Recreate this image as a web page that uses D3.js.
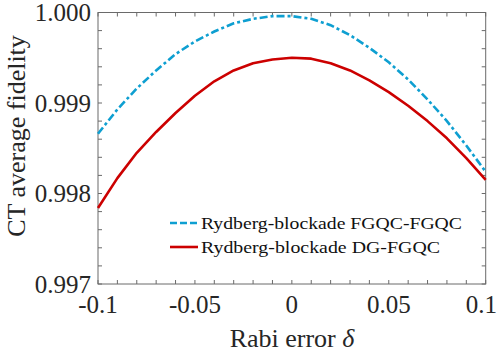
<!DOCTYPE html>
<html><head><meta charset="utf-8">
<script src="https://cdn.jsdelivr.net/npm/d3@7"></script>
<style>body{margin:0;background:#fff}svg{display:block}</style>
</head><body>
<svg id="c" width="498" height="355"></svg>
<script>
const delta = [-0.10,-0.09,-0.08,-0.07,-0.06,-0.05,-0.04,-0.03,-0.02,-0.01,0.00,0.01,0.02,0.03,0.04,0.05,0.06,0.07,0.08,0.09,0.10];
const fgqcFgqc = [0.99866,0.99893,0.99916,0.99936,0.99954,0.99968,0.99979,0.99988,0.99993,0.99996,0.99996,0.99993,0.99986,0.99975,0.99961,0.99945,0.99926,0.99904,0.99880,0.99853,0.99824];
const dgFgqc = [0.99784,0.99817,0.99845,0.99868,0.99889,0.99908,0.99924,0.99936,0.99944,0.99948,0.99950,0.99949,0.99944,0.99936,0.99925,0.99912,0.99897,0.99880,0.99861,0.99839,0.99815];
const xTicks = [-0.1,-0.05,0,0.05,0.1];
const xTickLabels = ["-0.1","-0.05","0","0.05","0.1"];
const yTicks = [0.997,0.998,0.999,1.000];
const yTickLabels = ["0.997","0.998","0.999","1.000"];
const seriesNames = ["Rydberg-blockade FGQC-FGQC","Rydberg-blockade DG-FGQC"];

const svg = d3.select("#c");
const L=98, R=485.7, T=12.5, B=284;
const x = d3.scaleLinear().domain([-0.1,0.1]).range([L,R]);
const y = d3.scaleLinear().domain([0.997,1.0]).range([B,T]);
const axisCol = "#6a6a6a";
const font = "'Liberation Serif', 'Times New Roman', Times, serif";

const xMinor = d3.range(-10,11).map(i=>i/100);
const yMinor = d3.range(0,16).map(i=>0.997+i*0.0002);
const tl = 4;
const g = svg.append("g").attr("stroke",axisCol).attr("stroke-width",1);
xMinor.forEach(v=>{
  g.append("line").attr("x1",x(v)).attr("x2",x(v)).attr("y1",B).attr("y2",B-tl);
  g.append("line").attr("x1",x(v)).attr("x2",x(v)).attr("y1",T).attr("y2",T+tl);
});
yMinor.forEach(v=>{
  g.append("line").attr("y1",y(v)).attr("y2",y(v)).attr("x1",L).attr("x2",L+tl);
  g.append("line").attr("y1",y(v)).attr("y2",y(v)).attr("x1",R).attr("x2",R-tl);
});
svg.append("rect").attr("x",L).attr("y",T).attr("width",R-L).attr("height",B-T)
  .attr("fill","none").attr("stroke",axisCol).attr("stroke-width",1);

svg.append("g").selectAll("text").data(xTicks).join("text")
  .attr("x",(d,i)=> i===xTicks.length-1 ? 497 : x(d))
  .attr("y",313).attr("text-anchor",(d,i)=> i===xTicks.length-1 ? "end" : "middle")
  .attr("font-family",font).attr("font-size",25).attr("fill","#262626")
  .text((d,i)=>xTickLabels[i]);
svg.append("g").selectAll("text").data(yTicks).join("text")
  .attr("x",91).attr("y",d=>y(d)+8.5).attr("text-anchor","end")
  .attr("font-family",font).attr("font-size",25).attr("fill","#262626")
  .text((d,i)=>yTickLabels[i]);

const xl = svg.append("text").attr("x",292).attr("y",347).attr("text-anchor","middle")
  .attr("font-family",font).attr("font-size",26).attr("fill","#262626");
xl.append("tspan").text("Rabi error ");
xl.append("tspan").attr("font-style","italic").text("δ");
svg.append("text").attr("transform","translate(25,136) rotate(-90)").attr("text-anchor","middle")
  .attr("font-family",font).attr("font-size",26).attr("fill","#262626").text("CT average fidelity");

const line = d3.line().x((d,i)=>x(delta[i])).y(d=>y(d));
const blue = "#0e9fd1", red = "#cc0000";
svg.append("path").datum(dgFgqc).attr("d",line).attr("fill","none")
  .attr("stroke",red).attr("stroke-width",2.6).attr("stroke-linejoin","round");
svg.append("path").datum(fgqcFgqc).attr("d",line).attr("fill","none")
  .attr("stroke",blue).attr("stroke-width",2.6).attr("stroke-dasharray","8,3,3,3");

const lg = svg.append("g");
const rows = [{name:seriesNames[0],col:blue,dash:"7,3",y:223,w:261},{name:seriesNames[1],col:red,dash:null,y:247,w:239}];
rows.forEach(r=>{
  lg.append("line").attr("x1",170).attr("x2",198).attr("y1",r.y).attr("y2",r.y)
    .attr("stroke",r.col).attr("stroke-width",2.6).attr("stroke-dasharray",r.dash);
  lg.append("text").attr("x",201).attr("y",r.y+5.5).attr("font-family",font)
    .attr("font-size",17).attr("fill","#111").attr("textLength",r.w)
    .attr("lengthAdjust","spacingAndGlyphs").text(r.name);
});
</script>
</body></html>
